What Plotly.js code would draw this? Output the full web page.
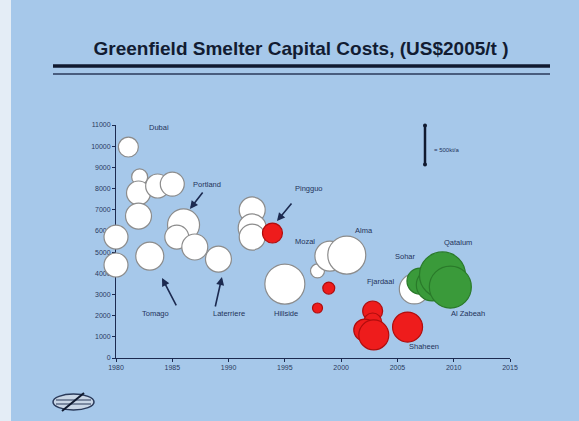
<!DOCTYPE html>
<html>
<head>
<meta charset="utf-8">
<script src="https://cdn.plot.ly/plotly-3.0.1.min.js"></script>
<style>html,body{margin:0;padding:0;background:#a6c8ea;}#chart{width:579px;height:421px;}</style>
</head>
<body>
<div id="chart"></div>
<script>
// ---- data (year of start-up, capital cost US$2005/t, capacity kt/a) ----
var whiteYear = [1981.1, 1982.1, 1982.0, 1983.7, 1985.0, 1982.0, 1980.0, 1980.0, 1983.0, 1986.0, 1985.4, 1987.0, 1989.1, 1992.1, 1992.1, 1992.1, 1995.0, 1997.9, 1999.0, 2000.5, 2006.5];
var whiteCost = [9960, 8550, 7790, 8120, 8210, 6700, 5710, 4390, 4810, 6280, 5710, 5240, 4670, 6990, 6140, 5710, 3490, 4110, 4810, 4860, 3260];
var whiteCap  = [131, 84, 189, 189, 189, 222, 189, 189, 258, 337, 189, 222, 222, 222, 258, 222, 526, 64, 296, 475, 296];

var redYear = [1993.9, 1998.9, 1997.9, 2002.8, 2002.8, 2002.1, 2002.9, 2005.9];
var redCost = [5900, 3300, 2360, 2220, 1700, 1320, 1090, 1460];
var redCap  = [131, 47, 33, 131, 106, 159, 296, 296];

var greenYear = [2007.0, 2008.1, 2009.0, 2009.7];
var greenCost = [3630, 3450, 3920, 3350];
var greenCap  = [222, 337, 696, 580];

var labelText = ["Dubai", "Portland", "Pingguo", "Mozal", "Alma", "Sohar", "Qatalum", "Fjardaal", "Al Zabeah", "Shaheen", "Hillside", "Tomago", "Laterriere"];
var labelYear = [1983.8, 1988.1, 1997.1, 1996.8, 2002.0, 2005.7, 2010.4, 2003.5, 2011.3, 2007.4, 1995.1, 1983.5, 1990.0];
var labelCost = [10860, 8170, 7980, 5480, 6040, 4770, 5430, 3590, 2080, 520, 2080, 2080, 2080];

var xTicks = [1980, 1985, 1990, 1995, 2000, 2005, 2010, 2015];
var yTicks = [0, 1000, 2000, 3000, 4000, 5000, 6000, 7000, 8000, 9000, 10000, 11000];
var scaleCap = 500; // kt/a shown by the scale bar

// ---- layout helpers ----
var W = 579, H = 421, L = 116, R = 69, T = 125, B = 63;
var pw = W - L - R, ph = H - T - B;
function px(x) { return (x - L) / pw; }
function py(y) { return (H - B - y) / ph; }
var sizeref = 0.6575;
var scaleDiam = 2 * Math.sqrt(scaleCap / 2 / sizeref);

function bubbles(xs, ys, cs, fill, edge) {
  return {
    type: 'scatter', mode: 'markers', x: xs, y: ys, cliponaxis: false, hoverinfo: 'skip',
    marker: { size: cs, sizemode: 'area', sizeref: sizeref, color: fill, opacity: 1,
              line: { color: edge, width: 1.2 } }
  };
}
var traces = [
  bubbles(whiteYear, whiteCost, whiteCap, '#ffffff', '#8c8c8c'),
  bubbles(redYear, redCost, redCap, '#ee1c1c', '#b00d0d'),
  bubbles(greenYear, greenCost, greenCap, '#3a9a3a', '#2a7a2a')
];

var navy = '#1c2a50';
var annotations = labelText.map(function (t, i) {
  return { x: labelYear[i], y: labelCost[i], xref: 'x', yref: 'y', text: t, showarrow: false,
           font: { family: 'Arial, Liberation Sans', size: 7.5, color: '#24335a' } };
});
function arrow(hx, hy, tx, ty) {
  return { x: hx, y: hy, ax: tx, ay: ty, xref: 'x', yref: 'y', axref: 'x', ayref: 'y', text: '',
           showarrow: true, arrowhead: 2, arrowsize: 1, arrowwidth: 1.6, arrowcolor: navy };
}
annotations.push(arrow(1986.57, 7035, 1987.8, 7884));   // Portland
annotations.push(arrow(1994.3, 6468, 1995.7, 7365));    // Pingguo
annotations.push(arrow(1984.09, 3777, 1985.42, 2408));  // Tomago
annotations.push(arrow(1989.41, 3824, 1988.79, 2361));  // Laterriere
annotations.push({ x: px(432), y: py(145), xref: 'paper', yref: 'paper', xanchor: 'left', text: '= ' + scaleCap + 'kt/a',
                   showarrow: false, font: { family: 'Arial, Liberation Sans', size: 6, color: '#24335a' } });

var barTop = 145 - scaleDiam / 2, barBot = 145 + scaleDiam / 2;
var shapes = [
  { type: 'rect', xref: 'paper', yref: 'paper', x0: px(0), x1: px(11), y0: py(H), y1: py(0), fillcolor: '#e4edf6', line: { width: 0 }, layer: 'below' },
  { type: 'line', xref: 'paper', yref: 'paper', x0: px(53), x1: px(550), y0: py(66), y1: py(66), line: { color: '#101a30', width: 3.5 } },
  { type: 'line', xref: 'paper', yref: 'paper', x0: px(53), x1: px(550), y0: py(74), y1: py(74), line: { color: '#2a3a5a', width: 1.5 } },
  { type: 'line', xref: 'paper', yref: 'paper', x0: px(425), x1: px(425), y0: py(barTop), y1: py(barBot), line: { color: '#101a30', width: 2.5 } },
  { type: 'circle', xref: 'paper', yref: 'paper', x0: px(423), x1: px(427), y0: py(barTop - 2), y1: py(barTop + 2), fillcolor: '#101a30', line: { width: 0 } },
  { type: 'circle', xref: 'paper', yref: 'paper', x0: px(423), x1: px(427), y0: py(barBot - 2), y1: py(barBot + 2), fillcolor: '#101a30', line: { width: 0 } },
  // logo
  { type: 'circle', xref: 'paper', yref: 'paper', x0: px(53), x1: px(94), y0: py(394), y1: py(410), fillcolor: '#c9d6e6', line: { color: '#2a3a5a', width: 1.5 } },
  { type: 'line', xref: 'paper', yref: 'paper', x0: px(56), x1: px(91), y0: py(400), y1: py(400), line: { color: '#2a3a5a', width: 1 } },
  { type: 'line', xref: 'paper', yref: 'paper', x0: px(56), x1: px(91), y0: py(404), y1: py(404), line: { color: '#2a3a5a', width: 1 } },
  { type: 'line', xref: 'paper', yref: 'paper', x0: px(62), x1: px(84), y0: py(411), y1: py(393), line: { color: '#101a30', width: 2 } }
];

var tickFont = { family: 'Arial, Liberation Sans', size: 7, color: '#2b3a5e' };
var layout = {
  width: W, height: H,
  margin: { l: L, r: R, t: T, b: B, pad: 0 },
  paper_bgcolor: '#a6c8ea', plot_bgcolor: 'rgba(0,0,0,0)',
  showlegend: false,
  title: { text: 'Greenfield Smelter Capital Costs, (US$2005/t )', xref: 'container', yref: 'container',
           x: 301 / W, y: 1 - 48 / H, xanchor: 'center', yanchor: 'middle',
           font: { family: 'Arial, Liberation Sans', size: 19, color: '#121c32', weight: 'bold' } },
  xaxis: { range: [1980, 2015], tickvals: xTicks, ticktext: xTicks.map(String), showgrid: false, zeroline: false,
           showline: true, linecolor: navy, linewidth: 1, ticks: 'outside', ticklen: 3, tickcolor: navy,
           tickfont: tickFont, layer: 'below traces', fixedrange: true },
  yaxis: { range: [0, 11000], tickvals: yTicks, ticktext: yTicks.map(String), showgrid: false, zeroline: false,
           showline: true, linecolor: navy, linewidth: 1, ticks: 'outside', ticklen: 3, tickcolor: navy,
           tickfont: tickFont, layer: 'below traces', fixedrange: true },
  annotations: annotations,
  shapes: shapes
};
Plotly.newPlot('chart', traces, layout, { displayModeBar: false, staticPlot: true });
</script>
</body>
</html>
